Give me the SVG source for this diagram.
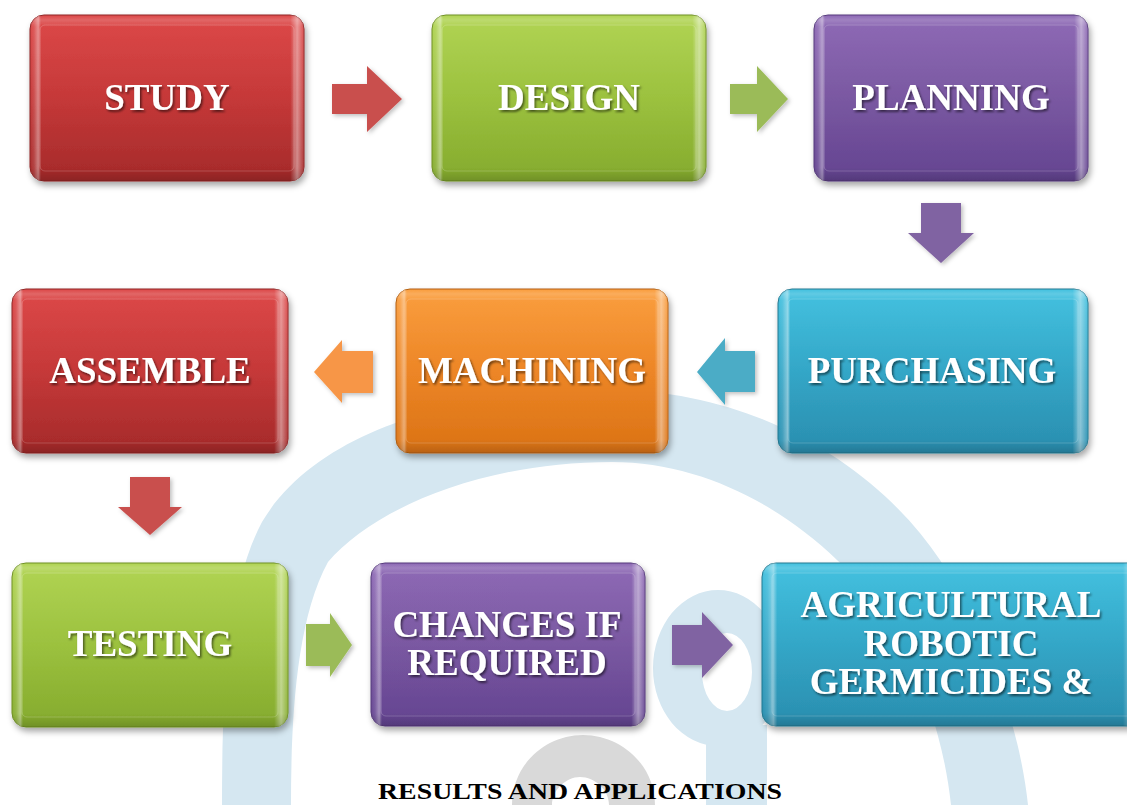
<svg xmlns="http://www.w3.org/2000/svg" width="1127" height="805" viewBox="0 0 1127 805">
<style>
.lbl{font-family:"Liberation Serif","Times New Roman",serif;font-weight:bold;font-size:37px;fill:#ffffff;text-anchor:middle;filter:url(#tshadow)}
.cap{font-family:"Liberation Serif","Times New Roman",serif;font-weight:bold;font-size:24px;fill:#000000;text-anchor:middle}
.wm{fill:#D5E7F1}
.edge{fill:url(#hEdge)}
.gloss{fill:url(#vGloss)}
.panel{fill:none;stroke:#ffffff;stroke-opacity:0.18;stroke-width:1}
.arrow{filter:url(#ashadow)}
</style>
<defs>
<filter id="shadow" x="-10%" y="-10%" width="120%" height="130%">
<feDropShadow dx="2" dy="4" stdDeviation="3" flood-color="#000" flood-opacity="0.35"/>
</filter>
<filter id="ashadow" x="-20%" y="-20%" width="150%" height="150%">
<feDropShadow dx="2" dy="2" stdDeviation="2" flood-color="#000" flood-opacity="0.25"/>
</filter>
<filter id="tshadow" x="-5%" y="-20%" width="110%" height="150%">
<feDropShadow dx="1.5" dy="2" stdDeviation="1" flood-color="#000" flood-opacity="0.55"/>
</filter>
<linearGradient id="gRed" x1="0" y1="0" x2="0" y2="1">
<stop offset="0" stop-color="#DC4545"/><stop offset="0.5" stop-color="#C63838"/><stop offset="1" stop-color="#A42A2A"/>
</linearGradient>
<linearGradient id="gGreen" x1="0" y1="0" x2="0" y2="1">
<stop offset="0" stop-color="#AFD350"/><stop offset="0.5" stop-color="#9CC23E"/><stop offset="1" stop-color="#84AA2D"/>
</linearGradient>
<linearGradient id="gPurple" x1="0" y1="0" x2="0" y2="1">
<stop offset="0" stop-color="#8C67B4"/><stop offset="0.5" stop-color="#7A58A2"/><stop offset="1" stop-color="#634390"/>
</linearGradient>
<linearGradient id="gBlue" x1="0" y1="0" x2="0" y2="1">
<stop offset="0" stop-color="#3FC0DF"/><stop offset="0.5" stop-color="#33A7C8"/><stop offset="1" stop-color="#2A8DAE"/>
</linearGradient>
<linearGradient id="gOrange" x1="0" y1="0" x2="0" y2="1">
<stop offset="0" stop-color="#FA9C3A"/><stop offset="0.5" stop-color="#EE8626"/><stop offset="1" stop-color="#DA7214"/>
</linearGradient>
<linearGradient id="hEdge" x1="0" y1="0" x2="1" y2="0">
<stop offset="0" stop-color="#fff" stop-opacity="0"/>
<stop offset="0.015" stop-color="#fff" stop-opacity="0.12"/>
<stop offset="0.03" stop-color="#fff" stop-opacity="0.4"/>
<stop offset="0.04" stop-color="#fff" stop-opacity="0"/>
<stop offset="0.95" stop-color="#fff" stop-opacity="0"/>
<stop offset="0.975" stop-color="#fff" stop-opacity="0.45"/>
<stop offset="1" stop-color="#fff" stop-opacity="0.05"/>
</linearGradient>
<linearGradient id="vGloss" x1="0" y1="0" x2="0" y2="1">
<stop offset="0" stop-color="#fff" stop-opacity="0"/>
<stop offset="0.03" stop-color="#fff" stop-opacity="0.18"/>
<stop offset="0.07" stop-color="#fff" stop-opacity="0.02"/>
<stop offset="0.92" stop-color="#000" stop-opacity="0"/>
<stop offset="1" stop-color="#000" stop-opacity="0.15"/>
</linearGradient>
</defs>
<rect x="0" y="0" width="1127" height="805" fill="#ffffff"/>
<g id="watermark">
<path class="wm" fill-rule="evenodd" d="M222 805 C222 700 226 590 262 522 C320 425 470 390 610 390 C760 390 880 470 940 560 C990 640 1020 730 1028 805 L951 805 C942 720 905 620 837 560 C780 505 700 462 612 462 C480 462 372 510 328 562 C296 620 291 720 291 805 Z"/>
<path class="wm" fill-rule="evenodd" d="M653 668 A65 78 0 1 1 783 668 A65 78 0 1 1 653 668 Z M702 672 A25 39 0 1 0 752 672 A25 39 0 1 0 702 672 Z"/>
<rect class="wm" x="706" y="725" width="61" height="80"/>
<path fill="#D9D9D9" fill-rule="evenodd" d="M512 805 C512 765 545 735 583 735 C621 735 655 765 655 805 Z M552 805 C552 790 566 777 580 777 C595 777 609 790 609 805 Z"/>
</g>
<g id="connectors">
<path class="arrow" fill="#C9504E" d="M332 84 H367 V66 L402 99 L367 132 V114 H332 Z"/>
<path class="arrow" fill="#9BBB59" d="M730 84 H757 V66 L788 99 L757 132 V114 H730 Z"/>
<path class="arrow" fill="#8064A2" d="M921 203 H961 V233 H974 L941 263 L908 233 H921 Z"/>
<path class="arrow" fill="#4BACC6" d="M755 351 H725 V338 L697 372 L725 405 V392 H755 Z"/>
<path class="arrow" fill="#F79646" d="M373 351 H342 V340 L314 372 L342 403 V393 H373 Z"/>
<path class="arrow" fill="#C9504E" d="M130 477 H170 V507 H182 L150 535 L118 507 H130 Z"/>
<path class="arrow" fill="#9BBB59" d="M306 624 H330 V613 L352 645 L330 677 V666 H306 Z"/>
<path class="arrow" fill="#8064A2" d="M672 625 H702 V612 L733 645 L702 678 V665 H672 Z"/>
</g>
<g id="study">
<rect x="30" y="15" width="274" height="166" rx="14" fill="url(#gRed)" stroke="#8E2424" filter="url(#shadow)"/>
<rect class="edge" x="30" y="15" width="274" height="166" rx="14"/>
<rect class="gloss" x="30" y="15" width="274" height="166" rx="14"/>
<rect class="panel" x="40" y="25" width="254" height="146" rx="5"/>
<text class="lbl" x="167" y="110">STUDY</text>
</g>
<g id="design">
<rect x="432" y="15" width="274" height="166" rx="14" fill="url(#gGreen)" stroke="#6F8F25" filter="url(#shadow)"/>
<rect class="edge" x="432" y="15" width="274" height="166" rx="14"/>
<rect class="gloss" x="432" y="15" width="274" height="166" rx="14"/>
<rect class="panel" x="442" y="25" width="254" height="146" rx="5"/>
<text class="lbl" x="569" y="110">DESIGN</text>
</g>
<g id="planning">
<rect x="814" y="15" width="274" height="166" rx="14" fill="url(#gPurple)" stroke="#553A7A" filter="url(#shadow)"/>
<rect class="edge" x="814" y="15" width="274" height="166" rx="14"/>
<rect class="gloss" x="814" y="15" width="274" height="166" rx="14"/>
<rect class="panel" x="824" y="25" width="254" height="146" rx="5"/>
<text class="lbl" x="951" y="110">PLANNING</text>
</g>
<g id="assemble">
<rect x="12" y="289" width="276" height="164" rx="14" fill="url(#gRed)" stroke="#8E2424" filter="url(#shadow)"/>
<rect class="edge" x="12" y="289" width="276" height="164" rx="14"/>
<rect class="gloss" x="12" y="289" width="276" height="164" rx="14"/>
<rect class="panel" x="22" y="299" width="256" height="144" rx="5"/>
<text class="lbl" x="150" y="383">ASSEMBLE</text>
</g>
<g id="machining">
<rect x="396" y="289" width="272" height="164" rx="14" fill="url(#gOrange)" stroke="#B25E10" filter="url(#shadow)"/>
<rect class="edge" x="396" y="289" width="272" height="164" rx="14"/>
<rect class="gloss" x="396" y="289" width="272" height="164" rx="14"/>
<rect class="panel" x="406" y="299" width="252" height="144" rx="5"/>
<text class="lbl" x="532" y="383">MACHINING</text>
</g>
<g id="purchasing">
<rect x="778" y="289" width="310" height="164" rx="14" fill="url(#gBlue)" stroke="#237890" filter="url(#shadow)"/>
<rect class="edge" x="778" y="289" width="310" height="164" rx="14"/>
<rect class="gloss" x="778" y="289" width="310" height="164" rx="14"/>
<rect class="panel" x="788" y="299" width="290" height="144" rx="5"/>
<text class="lbl" x="932" y="383">PURCHASING</text>
</g>
<g id="testing">
<rect x="12" y="563" width="276" height="164" rx="14" fill="url(#gGreen)" stroke="#6F8F25" filter="url(#shadow)"/>
<rect class="edge" x="12" y="563" width="276" height="164" rx="14"/>
<rect class="gloss" x="12" y="563" width="276" height="164" rx="14"/>
<rect class="panel" x="22" y="573" width="256" height="144" rx="5"/>
<text class="lbl" x="150" y="656">TESTING</text>
</g>
<g id="changes">
<rect x="371" y="563" width="274" height="163" rx="14" fill="url(#gPurple)" stroke="#553A7A" filter="url(#shadow)"/>
<rect class="edge" x="371" y="563" width="274" height="163" rx="14"/>
<rect class="gloss" x="371" y="563" width="274" height="163" rx="14"/>
<rect class="panel" x="381" y="573" width="254" height="143" rx="5"/>
<text class="lbl" x="507" y="637">CHANGES IF</text>
<text class="lbl" x="507" y="675">REQUIRED</text>
</g>
<g id="agricultural">
<rect x="762" y="563" width="380" height="163" rx="14" fill="url(#gBlue)" stroke="#237890" filter="url(#shadow)"/>
<rect class="edge" x="762" y="563" width="380" height="163" rx="14"/>
<rect class="gloss" x="762" y="563" width="380" height="163" rx="14"/>
<rect class="panel" x="772" y="573" width="360" height="143" rx="5"/>
<text class="lbl" x="951" y="617">AGRICULTURAL</text>
<text class="lbl" x="951" y="656">ROBOTIC</text>
<text class="lbl" x="951" y="694">GERMICIDES &amp;</text>
</g>
<g id="caption">
<text class="cap" x="580" y="799" textLength="404" lengthAdjust="spacingAndGlyphs">RESULTS AND APPLICATIONS</text>
</g>
</svg>
